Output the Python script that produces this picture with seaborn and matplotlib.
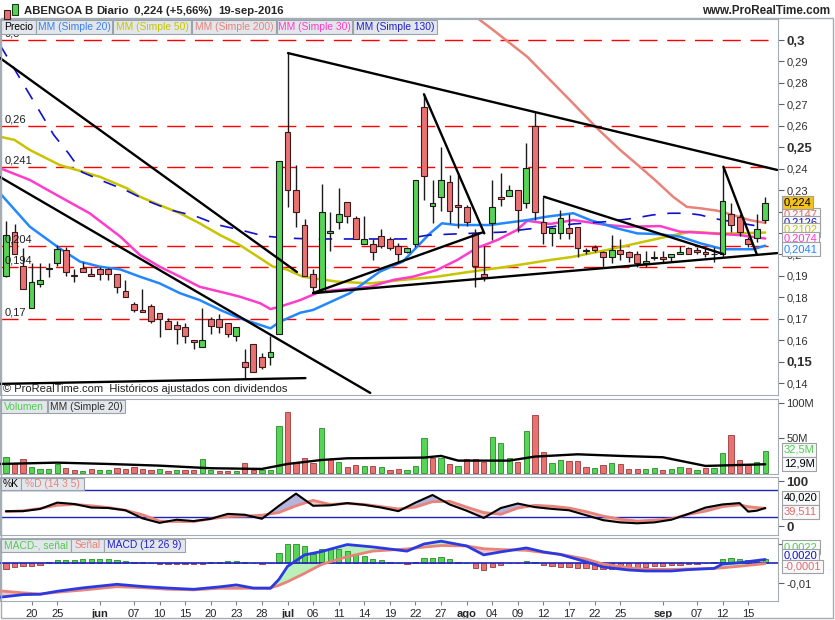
import numpy as np
import matplotlib
matplotlib.use("Agg")
import matplotlib.pyplot as plt
from matplotlib.patches import Rectangle
import seaborn as sns

# ---------------- data ----------------
# daily candles, 17-may-2016 .. 19-sep-2016 (index 0..89)
opens = [.1900, .2106, .1947, .1749, .1862, .1930, .1959, .2021, .1905, .1938,
         .1907, .1932, .1932, .1907, .1829, .1767, .1741, .1759, .1728, .1691,
         .1671, .1660, .1601, .1567, .1697, .1697, .1679, .1619, .1497, .1581,
         .1520, .1520, .1627, .2570, .2300, .2137, .1907, .1831, .2098, .2150,
         .2246, .2168, .2048, .2047, .2087, .2070, .2041, .2010, .2047, .2689,
         .2227, .2266, .2336, .2230, .2220, .2098, .1909, .2148, .2266, .2274,
         .2300, .2238, .2599, .2150, .2098, .2098, .2125, .2129, .2017, .2036,
         .2010, .1987, .2021, .2010, .2000, .1958, .1985, .1987, .1987, .2000,
         .2029, .2021, .2010, .2000, .2000, .2187, .2176, .2070, .2078, .2160]
highs = [.2157, .2142, .2028, .1958, .1958, .1961, .2044, .2036, .1932, .1966,
         .1935, .1943, .1935, .1907, .1881, .1777, .1839, .1769, .1728, .1702,
         .1691, .1679, .1601, .1749, .1709, .1722, .1679, .1660, .1557, .1584,
         .1539, .1619, .2437, .2938, .2417, .2166, .1930, .2328, .2196, .2308,
         .2246, .2179, .2179, .2070, .2118, .2080, .2052, .2035, .2347, .2747,
         .2347, .2500, .2369, .2378, .2230, .2118, .2039, .2347, .2378, .2323,
         .2300, .2521, .2666, .2269, .2130, .2207, .2190, .2129, .2030, .2045,
         .2015, .2091, .2072, .2014, .2014, .2014, .2014, .2014, .2000, .2040,
         .2036, .2036, .2036, .2036, .2409, .2238, .2190, .2079, .2188, .2269]
lows = [.1895, .2000, .1837, .1749, .1847, .1896, .1947, .1899, .1870, .1917,
        .1898, .1881, .1881, .1818, .1800, .1730, .1731, .1679, .1616, .1651,
        .1582, .1588, .1557, .1567, .1627, .1632, .1616, .1596, .1417, .1450,
        .1465, .1484, .1627, .2222, .2126, .1901, .1822, .1831, .2017, .2117,
        .2148, .2070, .2048, .1974, .2028, .2020, .1966, .2005, .2036, .2254,
        .2148, .2203, .2148, .2122, .2134, .1847, .1877, .2067, .2226, .2274,
        .2106, .2218, .2160, .2047, .2041, .2072, .2072, .1986, .2000, .2010,
        .1943, .1958, .1974, .1965, .1943, .1943, .1972, .1958, .1966, .2000,
        .2000, .2000, .1990, .1965, .1990, .2106, .2087, .2036, .2059, .2148]
closes = [.2090, .2000, .1837, .1870, .1881, .1938, .2025, .1917, .1898, .1917,
          .1898, .1909, .1909, .1847, .1800, .1741, .1731, .1691, .1697, .1651,
          .1651, .1619, .1590, .1601, .1667, .1660, .1627, .1660, .1476, .1450,
          .1476, .1546, .2437, .2300, .2196, .1901, .1847, .2196, .2109, .2187,
          .2179, .2070, .2070, .2010, .2041, .2029, .2000, .2029, .2347, .2367,
          .2238, .2347, .2204, .2220, .2150, .1947, .1896, .2220, .2257, .2300,
          .2207, .2404, .2196, .2098, .2125, .2171, .2098, .2029, .2017, .2021,
          .1987, .2021, .2002, .1987, .1958, .1969, .1986, .1977, .2000, .2010,
          .2000, .2010, .2000, .2000, .2249, .2137, .2103, .2047, .2117, .2240]
volumes = [22.9, 14.3, 19.9, 8.5, 5.7, 5.7, 13.3, 7.2, 4.8, 3.3,
           5.7, 4.3, 4.3, 7.2, 6.2, 9.0, 6.2, 4.8, 6.2, 3.3,
           4.3, 4.8, 4.8, 19.9, 4.3, 3.3, 3.3, 3.3, 14.3, 4.8,
           4.8, 4.8, 67.6, 87.1, 16.6, 21.4, 14.3, 64.3, 19.9, 15.7,
           9.0, 11.9, 10.5, 10.5, 8.5, 4.3, 5.7, 4.3, 10.5, 49.9,
           21.4, 22.4, 13.3, 10.5, 19.9, 19.9, 15.7, 51.4, 42.9, 21.4,
           15.7, 60.4, 83.3, 30.9, 14.3, 19.0, 17.6, 17.6, 8.5, 7.2,
           11.9, 14.3, 13.3, 6.2, 6.2, 6.2, 7.2, 4.3, 6.2, 9.0,
           8.1, 4.3, 8.1, 8.1, 28.6, 54.7, 19.0, 11.9, 16.6, 32.5]

# moving averages on price (index, value)
ma20_idx = [-0.7, 2.8, 6.3, 8.7, 11, 13.4, 15.7, 18, 20.4, 22.7, 25.1, 27.4, 29.8, 31, 32.1,
            34.5, 36, 40.3, 43.8, 46.5, 48.2, 49.7, 51.1, 52.9, 56.7, 61.1, 63.4, 66.5,
            68.5, 71.6, 74, 76.3, 79, 81.4, 84.1, 87.6, 89]
ma20_val = [.2285, .2129, .2028, .1966, .1943, .1930, .1896, .1865, .1819, .1787, .1741,
            .1702, .1671, .1655, .1686, .1728, .1741, .1819, .1919, .1966, .2036, .2098,
            .2145, .2137, .2137, .2160, .2176, .2192, .2160, .2122, .2098, .2095, .2083,
            .2052, .2024, .2024, .2041]
ma50_idx = [-0.7, 1, 2.8, 6.3, 11, 14.2, 15.7, 18, 20.4, 22.7, 25.1, 27.4, 29.8, 31.3, 32.9,
            34.8, 38.8, 42.7, 46.5, 50.5, 54.4, 58.3, 60.6, 63.8, 66.5, 70.5, 74.3, 77.5,
            80.2, 83.4, 86, 89]
ma50_val = [.2549, .2534, .2487, .2417, .2362, .2308, .2269, .2230, .2192, .2145, .2090,
            .2044, .1982, .1943, .1930, .1896, .1873, .1865, .1881, .1896, .1919, .1940,
            .1954, .1974, .1989, .2021, .2055, .2083, .2106, .2098, .2098, .2102]
ma30_idx = [-0.7, 2.8, 6.3, 9.8, 13.4, 15.7, 18, 20.4, 22.7, 25.1, 27.4, 29.8, 31, 32.1,
            34.5, 36.8, 42.7, 45.4, 47.7, 50.5, 52.9, 55.2, 57.6, 59.9, 61.1, 63.8, 66.5,
            70.5, 72.8, 76.7, 79, 81.4, 86, 89]
ma30_val = [.2402, .2347, .2269, .2192, .2083, .1997, .1943, .1896, .1849, .1826, .1803,
            .1772, .1745, .1756, .1787, .1826, .1849, .1881, .1896, .1927, .1974, .2030,
            .2067, .2114, .2157, .2142, .2160, .2137, .2129, .2132, .2106, .2101, .2090,
            .2074]
ma200_idx = [55, 57.1, 61.1, 63.8, 66.1, 69.3, 72, 74.3, 76.3, 78.2, 79.8, 81.4, 83.4,
             85.2, 87.2, 89]
ma200_val = [.3110, .3047, .2922, .2813, .2720, .2588, .2487, .2409, .2339, .2269, .2222,
             .2215, .2204, .2184, .2160, .2147]
ma130_idx = [-0.7, 5.6, 7.3, 8.9, 11.6, 14, 16.6, 19.3, 22.2, 24.9, 27.5, 30.2, 32.9, 35.8,
             41.4, 46.8, 49.5, 52.4, 58.3, 61.1, 63.8, 66.5, 70.5, 73.5, 75.8, 77.8, 79.8,
             81.4, 82.9, 89]
ma130_val = [.2977, .2557, .2473, .2384, .2338, .2300, .2249, .2207, .2179, .2137, .2114,
             .2086, .2076, .2072, .2072, .2072, .2090, .2095, .2104, .2118, .2128, .2142,
             .2153, .2168, .2184, .2192, .2192, .2184, .2168, .2126]

# horizontal levels and drawn trend lines
levels = [0.3, 0.26, 0.241, 0.204, 0.194, 0.17]
trend_lines = [((-0.7, .2916), (34.1, .1918)),
               ((-0.7, .2361), (42.7, .1354)),
               ((-0.7, .1396), (35.1, .1423)),
               ((33.06, .2939), (90.4, .2394)),
               ((49.0, .2747), (56.07, .2098)),
               ((36.0, .1820), (55.9, .2103)),
               ((36.0, .1819), (90.4, .2006)),
               ((63.07, .2269), (84.06, .2002)),
               ((84.1, .2409), (88.0, .2002))]

# volume moving average
vma_idx = [-0.7, 6, 12, 18, 24, 30, 33, 37, 40, 49, 51, 53, 59, 62, 67, 72, 77, 82, 89]
vma_val = [13.3, 15.2, 13.3, 10.9, 7.2, 6.2, 13.3, 19.0, 21.4, 22.4, 24.8, 18.1, 18.1,
           23.8, 27.1, 24.8, 22.9, 10.5, 12.9]

# stochastic %K / %D
stoch_idx = list(range(0, 87, 2)) + [87, 88, 89]
stoch_k = [33, 33, 38, 52, 49, 41, 40, 35, 17, 7, 14, 11, 16, 27, 25, 16, 45, 72, 45, 46,
           51, 47, 41, 33, 52, 69, 48, 34, 18, 40, 50, 42, 38, 35, 24, 13, 8, 6, 8, 14,
           27, 41, 48, 51, 32, 34, 40.02]
stoch_d = [32, 34, 39, 46, 48, 45, 41, 35, 25, 11, 10, 10, 16, 21, 22, 24, 30, 45, 57, 48,
           50, 48, 43, 38, 42, 54, 55, 42, 30, 26, 40, 46, 44, 40, 32, 22, 15, 11, 13, 16,
           26, 33, 43, 47, 43, 41, 39.511]

# MACD
macd_idx = [-0.7, 2, 4, 6, 9, 13, 16, 19, 22, 25, 27, 29, 31, 32, 33, 35, 37, 40, 43, 47,
            49, 51, 54, 56, 58, 61, 63, 65, 68, 70, 73, 75, 78, 80, 83, 84, 86, 89]
macd_line = [-.0170, -.0157, -.0155, -.0140, -.0123, -.0105, -.0116, -.0124, -.0130,
             -.0118, -.0108, -.0124, -.0125, -.0080, -.0015, .0043, .0060, .0095, .0083,
             .0062, .0098, .0112, .0088, .0043, .0058, .0078, .0058, .0045, .0008, -.0018,
             -.0033, -.0038, -.0038, -.0031, -.0025, -.0003, .0004, .0020]
macd_signal = [-.0138, -.0148, -.0154, -.0145, -.0134, -.0117, -.0122, -.0130, -.0133,
               -.0125, -.0125, -.0125, -.0123, -.0110, -.0092, -.0050, -.0005, .0034,
               .0062, .0073, .0082, .0090, .0088, .0074, .0070, .0066, .0055, .0046,
               .0022, -.0003, -.0022, -.0030, -.0030, -.0028, -.0025, -.0022, -.0014,
               -.0001]
macd_hist = [-.0028, -.0017, -.0012, -.0012, -.0008, .0008, .0017, .0017, .0017, .0020,
             .0020, .0020, .0020, .0017, .0013, .0007, .0005, .0002, -.0002, -.0005,
             -.0005, -.0005, -.0005, -.0003, .0005, .0008, .0012, .0012, .0007, .0000,
             -.0002, .0003, .0055, .0097, .0100, .0087, .0048, .0072, .0072, .0072,
             .0062, .0045, .0035, .0022, .0017, .0005, .0003, -.0005, .0008, .0025,
             .0025, .0032, .0020, .0008, .0000, -.0025, -.0033, -.0017, -.0008, .0000,
             .0000, .0012, .0005, -.0008, -.0012, -.0017, -.0018, -.0022, -.0025, -.0028,
             -.0030, -.0030, -.0025, -.0022, -.0022, -.0017, -.0013, -.0012, -.0008, -.0008,
             -.0005, -.0002, .0000, .0005, .0022, .0025, .0022, .0017, .0013, .0022]

tick_idx = [3, 6, 11, 15, 18, 21, 24, 27, 30, 33, 36, 39, 42, 45, 48, 51, 54, 57, 60, 63,
            66, 69, 72, 77, 81, 84, 87]
tick_lbl = ['20', '25', 'jun', '07', '10', '15', '20', '23', '28', 'jul', '06', '11', '14',
            '19', '22', '27', 'ago', '04', '09', '12', '17', '22', '25', 'sep', '07', '12',
            '15']

# ---------------- style ----------------
sns.set_style("white")
plt.rcParams['font.family'] = ['Liberation Sans', 'DejaVu Sans']

GREEN = '#55d455'
RED = '#e87272'
FRAME = '#a4acb4'
W, H = 835, 620

fig = plt.figure(figsize=(W / 100, H / 100), dpi=100)


def panel(top, bottom):
    ax = fig.add_axes([0, 1 - bottom / H, 778 / W, (bottom - top) / H])
    ax.set_xlim(-0.703, 90.5)
    for s in ax.spines.values():
        s.set_color(FRAME)
    ax.yaxis.tick_right()
    ax.tick_params(axis='y', length=4, width=0.8, color='#606060', pad=2,
                   labelsize=8, labelcolor='#303030')
    ax.tick_params(axis='x', bottom=False, labelbottom=False)
    return ax


def comma(v, fmt):
    return fmt.format(v).replace('.', ',')


def fig_box(x, y, text, tc, fc='#f8f9fb', ec='#a0a0a0'):
    fig.text(x / W, 1 - y / H, text, color=tc, fontsize=8, va='center', ha='left',
             bbox=dict(boxstyle='square,pad=0.15', fc=fc, ec=ec, lw=0.8))


def legend_row(y0, y1, items):
    for label, color, x0, x1 in items:
        fig.add_artist(Rectangle((x0 / W, 1 - y1 / H), (x1 - x0) / W, (y1 - y0) / H,
                                 transform=fig.transFigure, fc='#e3e7ec', ec='#9aa2aa',
                                 lw=0.8, zorder=5))
        fig.text((x0 + x1) / 2 / W, 1 - (y0 + y1) / 2 / H, label, color=color,
                 fontsize=7.4, ha='center', va='center', zorder=6)


idx = np.arange(len(closes))
o = np.array(opens); h = np.array(highs); l = np.array(lows); c = np.array(closes)

# ---------------- price panel ----------------
ax_p = panel(19, 395)
ax_p.set_ylim(0.13442, 0.3098)
for lv in levels:
    ax_p.axhline(lv, color='#ff0000', lw=1, dashes=(13, 7), zorder=1)
    ax_p.annotate(comma(lv, '{:g}'), (0, lv), xycoords=ax_p.get_yaxis_transform(),
                  xytext=(3, 1), textcoords='offset points', va='bottom', fontsize=8,
                  color='#202020', zorder=7)

sns.lineplot(x=ma200_idx, y=ma200_val, ax=ax_p, color='#e8837a', lw=1.8, sort=False,
             estimator=None, zorder=2)
sns.lineplot(x=ma50_idx, y=ma50_val, ax=ax_p, color='#c8c400', lw=1.8, sort=False,
             estimator=None, zorder=2)
sns.lineplot(x=ma30_idx, y=ma30_val, ax=ax_p, color='#ff3ccc', lw=1.8, sort=False,
             estimator=None, zorder=2)
sns.lineplot(x=ma20_idx, y=ma20_val, ax=ax_p, color='#2288ff', lw=1.8, sort=False,
             estimator=None, zorder=2)
ax_p.plot(ma130_idx, ma130_val, color='#1010cc', lw=1.2, dashes=(8, 7), zorder=2)

up = c >= o
body_lo = np.minimum(o, c)
body_h = np.maximum(np.abs(c - o), 0.0004)
ax_p.vlines(idx, l, h, color='#1a1a1a', lw=1, zorder=3)
ax_p.bar(idx[up], body_h[up], bottom=body_lo[up], width=0.68, color=GREEN,
         edgecolor='#1a1a1a', lw=0.8, zorder=4)
ax_p.bar(idx[~up], body_h[~up], bottom=body_lo[~up], width=0.68, color=RED,
         edgecolor='#3a1a1a', lw=0.8, zorder=4)

for (x0, y0), (x1, y1) in trend_lines:
    ax_p.plot([x0, x1], [y0, y1], color='black', lw=1.7, zorder=5, solid_capstyle='round')

pticks = [round(0.14 + 0.01 * k, 2) for k in range(17)]
ax_p.set_yticks(pticks)
ax_p.set_yticklabels([comma(v, '{:g}') for v in pticks])
for t, v in zip(ax_p.get_yticklabels(), pticks):
    if v in (0.15, 0.25, 0.3):
        t.set_fontweight('bold'); t.set_fontsize(9.5)
ax_p.set_ylabel('')
fig.text(3 / W, 1 - 389 / H, '© ProRealTime.com  Históricos ajustados con dividendos',
         fontsize=8, va='center', color='#202020')

# ---------------- volume panel ----------------
ax_v = panel(399, 473.5)
ax_v.set_ylim(-0.3, 106)
prev = np.concatenate([[c[0] - 1], c[:-1]])
vup = c >= prev
ax_v.bar(idx, volumes, width=0.62, color=np.where(vup, GREEN, RED),
         edgecolor=np.where(vup, '#2a8a2a', '#9a3a3a'), lw=0.6, zorder=2)
sns.lineplot(x=vma_idx, y=vma_val, ax=ax_v, color='black', lw=1.7, sort=False,
             estimator=None, zorder=3)
ax_v.set_yticks([50, 100])
ax_v.set_yticklabels(['50M', '100M'])
ax_v.set_ylabel('')

# ---------------- stochastic panel ----------------
ax_s = panel(477, 535)
ax_s.set_ylim(-20, 109)
k = np.array(stoch_k, float); d = np.array(stoch_d, float)
ax_s.fill_between(stoch_idx, k, d, where=k >= d, interpolate=True, color='#b4b4dc', lw=0)
ax_s.fill_between(stoch_idx, k, d, where=k < d, interpolate=True, color='#f6c4c4', lw=0)
ax_s.axhline(80, color='#2020c0', lw=1)
ax_s.axhline(20, color='#2020c0', lw=1)
sns.lineplot(x=stoch_idx, y=stoch_d, ax=ax_s, color='#e8837a', lw=2, sort=False,
             estimator=None)
sns.lineplot(x=stoch_idx, y=stoch_k, ax=ax_s, color='black', lw=1.5, sort=False,
             estimator=None)
ax_s.set_yticks([0, 100])
ax_s.set_yticklabels(['0', '100'])
for t in ax_s.get_yticklabels():
    t.set_fontweight('bold'); t.set_fontsize(9.5)
ax_s.set_ylabel('')

# ---------------- MACD panel ----------------
ax_m = panel(538, 601)
ax_m.set_ylim(-0.0189, 0.0128)
hist = np.array(macd_hist)
ax_m.bar(idx, hist, width=0.62, color=np.where(hist >= 0, GREEN, RED),
         edgecolor=np.where(hist >= 0, '#2a8a2a', '#9a3a3a'), lw=0.6, zorder=2)
ml = np.array(macd_line); ms = np.array(macd_signal)
ax_m.fill_between(macd_idx, ml, ms, where=ml >= ms, interpolate=True, color='#baf0ba', lw=0,
                  zorder=1)
ax_m.fill_between(macd_idx, ml, ms, where=ml < ms, interpolate=True, color='#f6c4c4', lw=0,
                  zorder=1)
ax_m.axhline(0, color='#2020c0', lw=1.2, zorder=3)
sns.lineplot(x=macd_idx, y=macd_signal, ax=ax_m, color='#e8837a', lw=2, sort=False,
             estimator=None, zorder=4)
sns.lineplot(x=macd_idx, y=macd_line, ax=ax_m, color='#2a3ae0', lw=2, sort=False,
             estimator=None, zorder=5)
ax_m.set_yticks([-0.01, 0.01])
ax_m.set_yticklabels(['-0,01', '0,01'])
ax_m.set_ylabel('')
ax_m.set_xticks(tick_idx)
ax_m.set_xticklabels(tick_lbl)
ax_m.tick_params(axis='x', bottom=True, labelbottom=True, length=3, color='#808080',
                 labelsize=8, pad=3)
for t in ax_m.get_xticklabels():
    if t.get_text() in ('jun', 'jul', 'ago', 'sep'):
        t.set_fontweight('bold')

# ---------------- legends ----------------
legend_row(20, 34, [('Precio', 'black', 1, 36),
                    ('MM (Simple 20)', '#3a80f0', 36, 112),
                    ('MM (Simple 50)', '#c8c400', 113, 191),
                    ('MM (Simple 200)', '#e8837a', 192, 276),
                    ('MM (Simple 30)', '#ff3ccc', 277, 352),
                    ('MM (Simple 130)', '#2020d0', 353, 437)])
legend_row(400, 413, [('Volumen', '#50cc50', 1, 47), ('MM (Simple 20)', '#303030', 48, 125)])
legend_row(478, 490, [('%K', 'black', 1, 21), ('%D (14 3 5)', '#e8837a', 21, 84)])
legend_row(539, 552, [('MACD-, señal', '#50cc50', 1, 71), ('Señal', '#e8837a', 71, 104),
                      ('MACD (12 26 9)', '#2020d0', 104, 185)])

# ---------------- value boxes on the right ----------------
fig_box(784, 214.6, comma(ma200_val[-1], '{:.4f}'), '#e06a6a')
fig_box(784, 222.3, comma(ma130_val[-1], '{:.4f}'), '#1010cc')
fig_box(784, 230.0, comma(ma50_val[-1], '{:.4f}'), '#c8c400')
fig_box(784, 238.3, comma(ma30_val[-1], '{:.4f}'), '#ff3ccc')
fig_box(784, 249.0, comma(ma20_val[-1], '{:.4f}'), '#2288ff')
fig_box(784, 202.4, comma(closes[-1], '{:.3f}'), 'black', fc='#f5c21b')
fig_box(784, 450, comma(volumes[-1], '{:.1f}') + 'M', '#50cc50')
fig_box(784, 464, comma(vma_val[-1], '{:.1f}') + 'M', 'black')
fig_box(784, 498, comma(stoch_k[-1], '{:.3f}'), 'black')
fig_box(784, 512, comma(stoch_d[-1], '{:.3f}'), '#e06a6a')
fig_box(784, 547, comma(macd_hist[-1], '{:.4f}'), '#50cc50')
fig_box(784, 556, comma(macd_line[-1], '{:.4f}'), '#1010cc')
fig_box(784, 566.6, comma(macd_signal[-1], '{:.4f}'), '#e06a6a')

# ---------------- header and frame ----------------
fig.add_artist(Rectangle((0.5 / W, 1 - 618 / H), 832.5 / W, 600 / H, transform=fig.transFigure,
                         fc='none', ec=FRAME, lw=1))
fig.add_artist(Rectangle((4 / W, 1 - 19 / H), 6 / W, 9 / H, transform=fig.transFigure,
                         fc=RED, ec='#3a1a1a', lw=0.8))
fig.add_artist(Rectangle((12 / W, 1 - 15 / H), 6 / W, 11 / H, transform=fig.transFigure,
                         fc=GREEN, ec='#1a3a1a', lw=0.8))
head_y = 1 - 11 / H
fig.text(24 / W, head_y, 'ABENGOA B', fontsize=8.2, fontweight='bold', va='center')
fig.text(96 / W, head_y, 'Diario', fontsize=8.2, fontweight='bold', va='center')
fig.text(134 / W, head_y, '0,224 (+5,66%)', fontsize=8.2, fontweight='bold', va='center')
fig.text(218 / W, head_y, '19-sep-2016', fontsize=8.2, fontweight='bold', va='center')
fig.text(830 / W, head_y, 'www.ProRealTime.com', fontsize=8.4, fontweight='bold',
         va='center', ha='right')

fig.savefig('out.png', dpi=100, facecolor='white')
